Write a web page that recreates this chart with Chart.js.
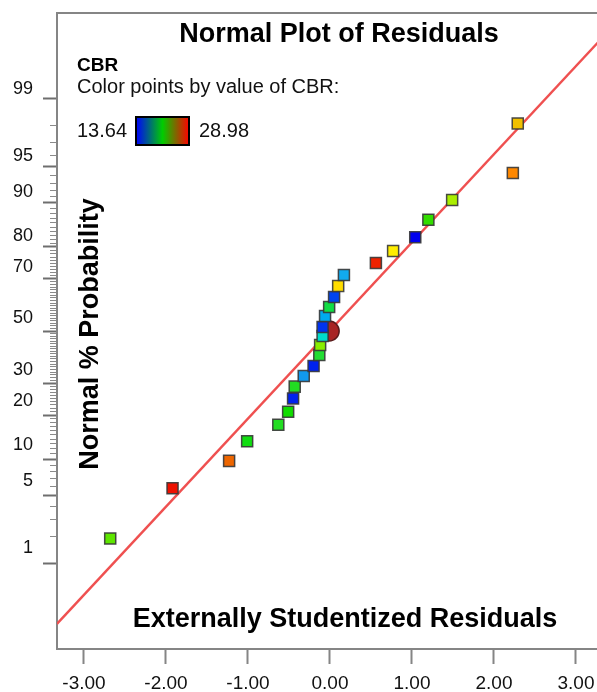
<!DOCTYPE html>
<html>
<head>
<meta charset="utf-8">
<script src="https://cdn.jsdelivr.net/npm/chart.js@4"></script>
<style>
  html, body { margin: 0; padding: 0; background: #fff; overflow: hidden; }
  #wrap { width: 620px; height: 692px; }
</style>
</head>
<body>
<div id="wrap"><canvas id="normalPlot" width="620" height="692"></canvas></div>
<script>
// Residuals (externally studentized) and their normal % probability
const residuals = [-2.68, -1.92, -1.23, -1.01, -0.63, -0.51, -0.45, -0.43, -0.32, -0.20, -0.13, -0.12, -0.09,
                   -0.09, -0.06, -0.01, 0.05, 0.10, 0.17, 0.56, 0.77, 1.04, 1.20, 1.49, 2.23, 2.29];
const probabilities = [1.9, 5.8, 9.7, 13.5, 17.4, 21.0, 25.0, 28.9, 32.6, 36.3, 40.5, 44.4, 48.0,
                       51.6, 56.0, 59.5, 63.3, 67.4, 71.2, 75.2, 78.8, 82.6, 86.7, 90.5, 94.3, 98.1];
// colour of each point (by value of CBR)
const pointColors = ['#5ee600', '#ee1100', '#ee6600', '#11dd11', '#22dd22', '#11dd00', '#0022ee', '#22dd22', '#1199ee',
                     '#0022ee', '#22dd33', '#88ee00', '#00ddcc', '#0033ee', '#00aaee', '#11dd44', '#0044ee', '#ffdd00',
                     '#11aaee', '#ee2200', '#ffee00', '#0000ee', '#33dd00', '#aaee00', '#ff8800', '#f0c000'];

// highlighted point
const markResidual = [-0.01];
const markProbability = [50];

// normal reference line end points
const lineResidual = [-3.33, 3.5];
const lineProbability = [0.17, 99.9];

// axis ticks
const xTicks = [-3, -2, -1, 0, 1, 2, 3];
const probLabels = [1, 5, 10, 20, 30, 50, 70, 80, 90, 95, 99];
const probMinor = Array.from({ length: 99 }, (_, i) => i + 1);

const cbrMin = '13.64', cbrMax = '28.98';

// inverse normal CDF (Acklam), used to place % probability on a z scale
function probit(p) {
    const a = [-3.969683028665376e+01, 2.209460984245205e+02, -2.759285104469687e+02, 1.383577518672690e+02, -3.066479806614716e+01, 2.506628277459239e+00];
    const b = [-5.447609879822406e+01, 1.615858368580409e+02, -1.556989798598866e+02, 6.680131188771972e+01, -1.328068155288572e+01];
    const c = [-7.784894002430293e-03, -3.223964580411365e-01, -2.400758277161838e+00, -2.549732539343734e+00, 4.374664141464968e+00, 2.938163982698783e+00];
    const d = [7.784695709041462e-03, 3.224671290700398e-01, 2.445134137142996e+00, 3.754408661907416e+00];
    const pl = 0.02425;
    let q, r;
    if (p < pl) {
        q = Math.sqrt(-2 * Math.log(p));
        return (((((c[0] * q + c[1]) * q + c[2]) * q + c[3]) * q + c[4]) * q + c[5]) / ((((d[0] * q + d[1]) * q + d[2]) * q + d[3]) * q + 1);
    }
    if (p > 1 - pl) {
        q = Math.sqrt(-2 * Math.log(1 - p));
        return -(((((c[0] * q + c[1]) * q + c[2]) * q + c[3]) * q + c[4]) * q + c[5]) / ((((d[0] * q + d[1]) * q + d[2]) * q + d[3]) * q + 1);
    }
    q = p - 0.5; r = q * q;
    return (((((a[0] * r + a[1]) * r + a[2]) * r + a[3]) * r + a[4]) * r + a[5]) * q / (((((b[0] * r + b[1]) * r + b[2]) * r + b[3]) * r + b[4]) * r + 1);
}

const toXY = (xs, ps) => xs.map((x, i) => ({ x: x, y: probit(ps[i] / 100) }));

const FONT = '"Liberation Sans", Arial, sans-serif';
const FRAME = '#858585';
const majorSet = new Set(probLabels);

// stop the axes from reserving room for half-labels at their ends
const noEdgePadding = (s) => { s.paddingLeft = 0; s.paddingRight = 0; s.paddingTop = 0; s.paddingBottom = 0; };

// titles, legend and colour bar drawn inside the plot frame
const overlay = {
    id: 'overlay',
    afterDraw(chart) {
        const ctx = chart.ctx;
        ctx.save();
        ctx.fillStyle = '#000';
        ctx.textBaseline = 'alphabetic';
        ctx.textAlign = 'center';
        ctx.font = 'bold 27px ' + FONT;
        ctx.fillText('Normal Plot of Residuals', 339, 42);
        ctx.fillText('Externally Studentized Residuals', 345, 627);
        ctx.save();
        ctx.translate(98, 334);
        ctx.rotate(-Math.PI / 2);
        ctx.fillText('Normal % Probability', 0, 0);
        ctx.restore();

        ctx.textAlign = 'left';
        ctx.font = 'bold 19px ' + FONT;
        ctx.fillText('CBR', 77, 71);
        ctx.font = '20px ' + FONT;
        ctx.fillStyle = '#111';
        ctx.fillText('Color points by value of CBR:', 77, 93);
        ctx.fillText(cbrMin, 77, 137);
        ctx.fillText(cbrMax, 199, 137);

        const g = ctx.createLinearGradient(136, 0, 189, 0);
        g.addColorStop(0, '#0000ff');
        g.addColorStop(0.5, '#00cc00');
        g.addColorStop(1, '#ff0000');
        ctx.fillStyle = g;
        ctx.fillRect(136, 117, 53, 28);
        ctx.strokeStyle = '#000';
        ctx.lineWidth = 2;
        ctx.strokeRect(136, 117, 53, 28);
        ctx.restore();
    }
};

new Chart(document.getElementById('normalPlot'), {
    type: 'scatter',
    data: {
        datasets: [{
            label: 'Residuals',
            data: toXY(residuals, probabilities),
            pointStyle: 'rect',
            pointRadius: 7.8,
            backgroundColor: pointColors,
            borderColor: 'rgba(55,55,55,0.9)',
            borderWidth: 1.5,
            order: 0
        }, {
            label: 'Mark',
            data: toXY(markResidual, markProbability),
            pointStyle: 'circle',
            pointRadius: 10,
            backgroundColor: '#a82424',
            borderColor: '#5a1a1a',
            borderWidth: 1.5,
            order: 1
        }, {
            type: 'line',
            label: 'Normal line',
            data: toXY(lineResidual, lineProbability),
            borderColor: '#ef5050',
            borderWidth: 2.5,
            pointRadius: 0,
            fill: false,
            order: 2
        }]
    },
    options: {
        responsive: false,
        animation: false,
        layout: { autoPadding: false, padding: { top: 13, left: 0, right: 0, bottom: 0 } },
        plugins: {
            legend: { display: false },
            tooltip: { enabled: false },
            title: { display: false }
        },
        scales: {
            x: {
                type: 'linear',
                position: 'bottom',
                min: -3.329,
                max: 3.537,
                afterBuildTicks: (s) => { s.ticks = xTicks.map(v => ({ value: v })); },
                afterFit: (s) => { s.height = 43; noEdgePadding(s); },
                grid: { drawOnChartArea: false, drawTicks: true, tickLength: 15, tickColor: FRAME, tickWidth: 2 },
                border: { display: true, color: FRAME, width: 2 },
                ticks: {
                    padding: 8,
                    color: '#111',
                    font: { family: FONT, size: 19 },
                    maxRotation: 0,
                    autoSkip: false,
                    callback: (v) => Number(v).toFixed(2)
                }
            },
            xTop: {
                type: 'linear',
                position: 'top',
                min: -3.329,
                max: 3.537,
                afterFit: (s) => { s.height = 0; noEdgePadding(s); },
                grid: { display: false, drawTicks: false },
                border: { display: true, color: FRAME, width: 2 },
                ticks: { display: false }
            },
            y: {
                type: 'linear',
                position: 'left',
                min: -3.18,
                max: 3.18,
                weight: 0,
                afterBuildTicks: (s) => { s.ticks = probMinor.map(p => ({ value: probit(p / 100), prob: p })); },
                afterFit: (s) => { s.width = 14; noEdgePadding(s); },
                grid: {
                    drawOnChartArea: false,
                    drawTicks: true,
                    tickLength: 14,
                    tickWidth: (c) => majorSet.has(c.tick && c.tick.prob) ? 2 : 1.2,
                    tickColor: (c) => majorSet.has(c.tick && c.tick.prob) ? '#6e6e6e' : '#8a8a8a',
                    tickBorderDash: (c) => majorSet.has(c.tick && c.tick.prob) ? [] : [0, 7, 20]
                },
                border: { display: true, color: FRAME, width: 2 },
                ticks: { display: false, autoSkip: false }
            },
            yLab: {
                type: 'linear',
                position: 'left',
                min: -3.354,
                max: 3.10,
                weight: 1,
                afterBuildTicks: (s) => { s.ticks = probLabels.map(p => ({ value: probit(p / 100), prob: p })); },
                afterFit: (s) => { s.width = 43; noEdgePadding(s); },
                grid: { display: false, drawTicks: false },
                border: { display: false },
                ticks: {
                    padding: 10,
                    autoSkip: false,
                    color: '#111',
                    font: { family: FONT, size: 18 },
                    callback: (v, i, ticks) => String(ticks[i].prob)
                }
            }
        }
    },
    plugins: [overlay]
});
</script>
</body>
</html>
